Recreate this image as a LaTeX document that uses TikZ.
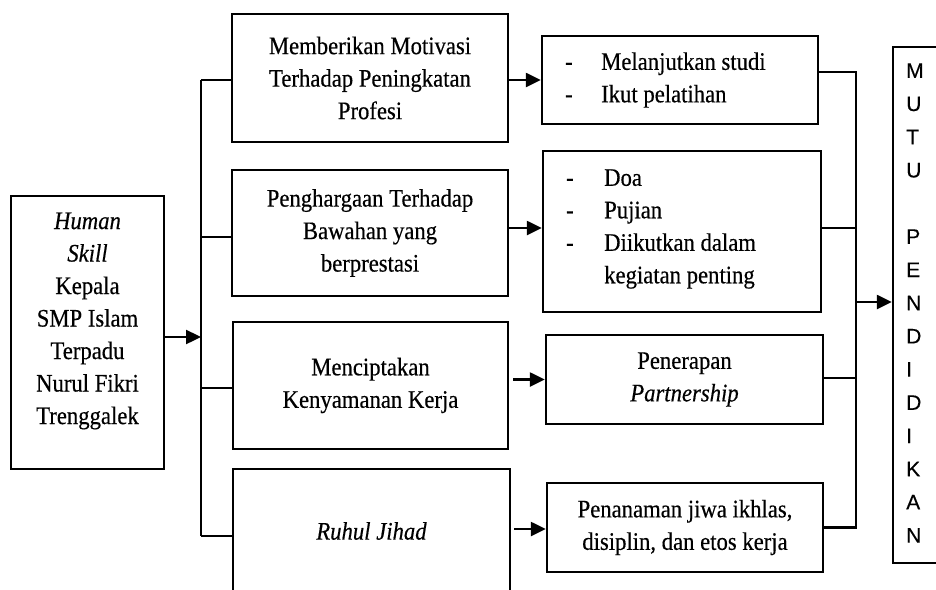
\documentclass[tikz,border=0pt]{standalone}
\usepackage{fontspec}
\setmainfont[FakeStretch=0.9,FakeBold=0.4]{Liberation Serif}
\newfontfamily\lettersans[FakeBold=0.3]{Liberation Sans}
\usetikzlibrary{arrows.meta,calc}

\begin{document}
\begin{tikzpicture}[x=0.5pt,y=-0.5pt,
  line width=1.2pt,
  bodyfont/.style={font=\fontsize{12.6pt}{16.25pt}\selectfont},
  box/.style={draw, line width=1.2pt, inner sep=0pt, align=center, bodyfont},
  txt/.style={inner sep=0pt, align=center, bodyfont},
  listtxt/.style={inner sep=0pt, align=left, anchor=west, bodyfont},
  arr/.style={line width=1.2pt, -{Triangle[length=7.5pt,width=7pt]}},
  link/.style={line width=1.2pt}
]
\useasboundingbox (0,0) rectangle (936,589);
\clip (0,0) rectangle (936,589);

% source box
\node[box, minimum width=76.5pt, minimum height=136.5pt] (L) at (87.5,332.5) {};
\node[txt] (Lt) at (87.5,321) {\textit{Human}\\\textit{Skill}\\Kepala\\SMP Islam\\Terpadu\\Nurul Fikri\\Trenggalek};

% middle column
\node[box, minimum width=138pt, minimum height=64pt] (B1) at (370,78)
  {Memberikan Motivasi\\Terhadap Peningkatan\\Profesi};
\node[box, minimum width=138pt, minimum height=63pt] (B2) at (370,233)
  {Penghargaan Terhadap\\Bawahan yang\\berprestasi};
\node[box, minimum width=137.5pt, minimum height=63.5pt] (B3) at (370.5,385.5)
  {Menciptakan\\Kenyamanan Kerja};
\node[box, minimum width=138.5pt, minimum height=62pt] (B4) at (371.5,531)
  {\textit{Ruhul Jihad}};

% right column
\node[box, minimum width=138pt, minimum height=44pt] (R1) at (680,80) {};
\node[listtxt] (R1t) at (564,80)
  {\makebox[18pt][l]{-}Melanjutkan studi\\\makebox[18pt][l]{-}Ikut pelatihan};
\node[box, minimum width=139pt, minimum height=80.5pt] (R2) at (682,231.5) {};
\node[listtxt] (R2t) at (565,229)
  {\makebox[19pt][l]{-}Doa\\\makebox[19pt][l]{-}Pujian\\\makebox[19pt][l]{-}Diikutkan dalam\\\hspace*{19pt}kegiatan penting};
\node[box, minimum width=138.5pt, minimum height=44.5pt] (R3) at (684.5,379.5)
  {Penerapan\\\textit{Partnership}};
\node[box, minimum width=138pt, minimum height=44.5pt] (R4) at (685,527.5)
  {Penanaman jiwa ikhlas,\\disiplin, dan etos kerja};

% result box
\node[box, minimum width=30pt, minimum height=258pt] (M) at (923,305) {};
\node[inner sep=0pt, align=left, anchor=west, font=\lettersans\fontsize{10.5pt}{16.6pt}\selectfont] (Mt) at (905,303)
  {M\\U\\T\\U\\\mbox{}\\P\\E\\N\\D\\I\\D\\I\\K\\A\\N};

% trunk from source box to the four branches
\coordinate (tr) at (201,337);
\draw[arr] (L.east |- tr) -- (tr);
\draw[link] ($(tr |- B1.west)+(0,2)$) -- ($(B1.west)+(0,2)$);
\draw[link] ($(tr |- B2.west)+(0,4)$) -- ($(B2.west)+(0,4)$);
\draw[link] ($(tr |- B3.west)+(0,2.5)$) -- ($(B3.west)+(0,2.5)$);
\draw[link] ($(tr |- B4.west)+(0,5)$) -- ($(B4.west)+(0,5)$);
\draw[link] ($(tr |- B1.west)+(0,2)$) -- ($(tr |- B4.west)+(0,5)$);

% middle to right column
\draw[arr] (B1.east |- R1.west) -- (R1.west);
\draw[arr] ($(B2.east |- R2.west)+(0,-3.5)$) -- ($(R2.west)+(0,-3.5)$);
\draw[arr] ($(B3.east |- R3.west)+(4,0)$) -- (R3.west);
\draw[arr] ($(B4.east |- R4.west)+(3,1.5)$) -- ($(R4.west)+(0,1.5)$);

% collector into the result box
\coordinate (cx) at (856,302);
\draw[link] ($(R1.east)+(0,-8)$) -- ($(cx |- R1.east)+(0,-8)$) -- (cx |- R4.east) -- (R4.east);
\draw[link] ($(R2.east)+(0,-3.5)$) -- ($(cx |- R2.east)+(0,-3.5)$);
\draw[link] ($(R3.east)+(0,-1.5)$) -- ($(cx |- R3.east)+(0,-1.5)$);
\draw[arr] (cx) -- (M.west |- cx);
\end{tikzpicture}
\end{document}
